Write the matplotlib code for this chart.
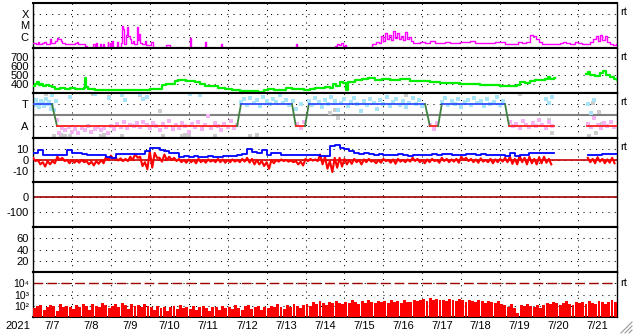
import numpy as np
import matplotlib
matplotlib.use("Agg")
import matplotlib.pyplot as plt
from matplotlib.lines import Line2D

plt.rcParams["font.family"] = ["Liberation Sans", "DejaVu Sans"]

# ---- data (hours since 2021-07-07 00UT) ----
day_labels = ["7/7", "7/8", "7/9", "7/10", "7/11", "7/12", "7/13", "7/14",
              "7/15", "7/16", "7/17", "7/18", "7/19", "7/20", "7/21"]

# GOES X-ray flux (W/m2)
xray_h = [0, 2, 3, 4, 5.5, 7, 8, 10.5, 11, 12, 13.5, 15, 15.5, 17, 18, 20, 23,
          26, 27, 28, 30, 32, 33, 37, 38, 39, 39.5, 41, 42, 43, 44, 46, 46.5,
          47.5, 48, 49, 49.6, 52, 52.6, 54, 55, 55.5, 56, 57.3, 58, 58.6, 60,
          60.4, 61.6, 62.2, 64, 64.7, 65.3, 66, 67, 69, 69.7, 72.7, 73.4, 74,
          82, 83, 84.5, 97, 97.4, 106, 106.6, 116, 116.6, 135, 135.6, 162,
          162.6, 186, 187.4, 188.6, 190, 191, 192.3, 193, 209, 211.5, 213,
          214.5, 215.8, 217, 218.2, 219.5, 220.7, 222, 223.2, 224.4, 225.6,
          227, 228, 229.3, 230.6, 231.8, 233, 234.3, 238.6, 241.7, 244.7,
          247.8, 254, 257, 263, 269.4, 272.5, 278.7, 284.8, 291, 295.3, 299,
          301.5, 304, 306.4, 308, 310, 312, 313.8, 318.7, 325, 326.7, 328.6,
          331, 334, 336, 338.5, 343.4, 345, 347, 348.4, 349.6, 350.8, 352.6,
          354, 355.7, 357.6, 359.5]
xray_flux = [2.8e-7, 2.3e-7, 3.5e-7, 2.3e-7, 2.8e-7, 3.5e-7, 2.3e-7, 6.6e-7,
             2.8e-7, 2.8e-7, 4.3e-7, 8.1e-7, 6.6e-7, 4.3e-7, 3e-7, 2.3e-7,
             2.3e-7, 2.8e-7, 3.5e-7, 2.3e-7, 2e-7, 1.6e-7, 8e-8, 2.3e-7, 8e-8,
             2.8e-7, 8e-8, 2.3e-7, 8e-8, 2e-7, 8e-8, 3.5e-7, 8e-8, 2.8e-7,
             8e-8, 4.3e-7, 8e-8, 3.5e-7, 8e-8, 2.8e-7, 8.1e-6, 5e-6, 2e-7,
             1.5e-6, 7.6e-6, 1.2e-6, 6.6e-7, 2.8e-7, 4.3e-7, 2.3e-7, 6.6e-6,
             5e-7, 1.9e-6, 3e-7, 2.3e-7, 4.3e-7, 1.9e-7, 3.5e-7, 3.5e-7, 8e-8,
             1.9e-7, 1.9e-7, 8e-8, 8.1e-7, 8e-8, 3.5e-7, 8e-8, 2.3e-7, 8e-8,
             1.2e-7, 8e-8, 2.3e-7, 8e-8, 1.5e-7, 2.3e-7, 1.9e-7, 2.8e-7,
             1.6e-7, 1.9e-7, 8e-8, 2.3e-7, 3.5e-7, 2.8e-7, 1.2e-6, 4.3e-7,
             2.3e-6, 6.6e-7, 1.5e-6, 5e-7, 3.5e-6, 8.1e-7, 2e-6, 6.6e-7,
             1.2e-6, 5e-7, 2.8e-6, 6.6e-7, 1e-6, 4.3e-7, 2.8e-7, 3.5e-7,
             2.8e-7, 4.3e-7, 2.8e-7, 3.5e-7, 2.8e-7, 3.5e-7, 4.3e-7, 3e-7,
             2.8e-7, 3.5e-7, 2.3e-7, 2.3e-7, 3.5e-7, 2.8e-7, 3.5e-7, 1.5e-6,
             1.2e-6, 6.6e-7, 3.5e-7, 2.3e-7, 2.3e-7, 2.8e-7, 3.5e-7, 2.8e-7,
             2.3e-7, 3.5e-7, 2.8e-7, 2.3e-7, 3.5e-7, 6.6e-7, 1.2e-6, 4.3e-7,
             1.5e-6, 5e-7, 1.2e-6, 3.5e-7, 2.3e-7, 1.9e-7, 2.3e-7]

# solar wind speed (km/s)
speed_h = [0, 1.2, 2.5, 3.7, 5, 6, 8, 10, 11.7, 13.6, 16.6, 19.7, 22.8, 26, 29,
           31.4, 32, 32.7, 34, 38, 41.3, 47.5, 53.6, 60, 66, 72, 77, 79.5, 82,
           84.5, 87.5, 89.4, 92, 94.3, 96.8, 100, 103, 106, 110.4, 114, 118.4,
           122.7, 127.6, 133.8, 138.7, 142.4, 145, 148.6, 152, 156, 159.7,
           163.4, 167, 171, 174, 177, 180, 183, 185, 186.8, 189.3, 191, 193,
           194.2, 198.5, 203, 206.5, 211, 215, 220, 226, 232.4, 238.6, 244.7,
           251, 257, 263, 269.4, 275.6, 281.7, 288, 294, 298.4, 300.2, 303.3,
           306.4, 309.5, 312.6, 315.6, 317.5, 318.7, 321, 321.5, 341, 342,
           343.4, 346.5, 349.6, 351.4, 353.3, 355.7, 358, 360]
speed = [380, 395, 415, 385, 400, 375, 385, 370, 360, 345, 348, 345, 350, 345,
         342, 350, 460, 365, 340, 335, 333, 335, 333, 330, 335, 337, 340, 390,
         395, 400, 430, 445, 440, 432, 430, 420, 395, 380, 370, 350, 345, 325,
         320, 315, 312, 330, 340, 330, 335, 355, 345, 338, 330, 345, 350, 355,
         360, 350, 395, 380, 425, 410, 330, 420, 440, 450, 460, 445, 455, 440,
         450, 435, 430, 420, 410, 405, 400, 395, 390, 385, 380, 378, 385, 415,
         410, 430, 437, 440, 455, 470, 450, 460, np.nan, 505, 530, 495, 490,
         520, 545, 500, 470, 450, 440]

# IMF sector: +1 toward, -1 away
sector_h = [0, 11.7, 14.8, 125.8, 128.2, 159.7, 162, 167.7, 170, 241.7, 244.7,
            249.7, 252, 291, 293.5, 321, np.nan, 341.5, 360]
sector_v = [1, 1, -1, -1, 1, 1, -1, -1, 1, 1, -1, -1, 1, 1, -1, -1, np.nan,
            -1, -1]

toward_h = [0, 1, 2, 3, 4, 5, 6, 7, 8, 9, 10, 11, 12, 13, 14, 12, 23, 38, 47,
            55, 57, 66, 68, 70, 97, 103, 128, 130, 132, 134, 136, 138, 140,
            142, 144, 146, 148, 150, 152, 154, 156, 158, 160, 162, 165, 170,
            172, 174, 176, 178, 180, 182, 184, 186, 188, 190, 192, 194, 196,
            198, 200, 202, 204, 206, 208, 210, 212, 214, 216, 218, 220, 222,
            224, 226, 228, 230, 232, 234, 236, 238, 240, 252, 254, 256, 258,
            260, 262, 264, 266, 268, 270, 272, 274, 276, 278, 280, 282, 284,
            286, 288, 290, 316, 318, 320, 342, 344, 346]
toward_v = [1.2, 0.9, 1.4, 1.0, 0.7, 1.3, 1.1, 0.8, 1.5, 1.0, 1.2, 0.6, 0.9,
            0.5, 1.3, 1.8, 1.7, 1.9, 1.6, 1.8, 1.4, 1.9, 1.5, 1.7, 1.9, 1.8,
            1.2, 1.5, 0.9, 1.6, 1.1, 1.4, 0.8, 1.7, 1.3, 1.0, 1.5, 1.2, 1.8,
            1.1, 1.4, 0.9, 1.3, 0.6, 1.0, 1.3, 0.9, 1.6, 1.2, 0.7, 1.4, 1.0,
            1.7, 1.3, 0.5, 1.1, 1.5, 0.8, 1.2, 1.6, 1.0, 0.4, 1.3, 0.9, 1.5,
            1.1, 0.6, 1.4, 1.0, 1.7, 0.8, 1.2, 1.5, 0.9, 1.3, 0.7, 1.1, 1.6,
            1.0, 1.4, 0.8, 1.2, 1.6, 0.9, 1.3, 1.0, 1.5, 0.7, 1.2, 1.4, 0.9,
            1.6, 1.1, 1.3, 0.8, 1.5, 1.0, 1.2, 1.7, 0.9, 1.3, 1.5, 1.1, 1.7,
            1.0, 0.2, 1.4]

away_h = [15, 16, 18, 20, 22, 24, 26, 28, 30, 32, 34, 36, 38, 40, 42, 44, 46,
          48, 50, 52, 54, 56, 58, 60, 62, 64, 66, 68, 70, 72, 74, 76, 78, 80,
          82, 84, 86, 88, 90, 92, 94, 96, 98, 100, 102, 104, 106, 108, 110,
          112, 114, 116, 118, 120, 122, 124, 126, 163, 165, 167, 245, 247,
          249, 294, 296, 298, 300, 302, 304, 306, 308, 310, 312, 314, 316,
          318, 320, 342, 344, 346, 348, 350, 352, 354, 356, 358]
away_v = [-0.4, -1.6, -1.2, -1.4, -1.1, -1.5, -1.3, -1.6, -1.2, -1.4, -1.0,
          -1.5, -1.3, -1.1, -1.4, -1.2, -1.6, -1.0, -1.3, -0.8, -1.1, -0.6,
          -1.2, -0.9, -1.0, -0.7, -1.1, -0.6, -0.9, -1.2, -0.7, -1.0, -1.4,
          -0.8, -1.1, -0.5, -1.3, -0.9, -1.2, -0.7, -1.0, -1.5, -0.8, -1.1,
          -0.6, -1.3, -0.9, -0.1, -1.2, -0.7, -1.0, -1.4, -0.8, -1.1, -0.5,
          -1.2, -0.9, -0.8, -1.2, -0.6, -0.9, -1.3, -0.7, -0.6, -1.0, -0.8,
          -1.2, -0.5, -0.9, -1.1, -0.7, -1.0, -0.4, -0.9, -1.2, -0.6, -1.0,
          -0.8, -1.1, -0.3, -0.9, -1.2, -0.7, -1.0, -0.6, -1.1]

other_h = [8, 13, 17, 20, 23, 37, 42, 44, 47, 55, 66, 78, 80, 92, 94, 96, 112,
           134, 138, 183, 186, 188, 230, 300, 318, 320, 343, 345, 347, 349, 351]
other_v = [1.9, -1.9, -1.8, -1.95, -1.9, 1.9, -1.9, -1.8, 1.7, -1.9, 1.8, 0.4,
           -1.9, -1.9, -1.8, -1.95, -1.9, -1.9, -1.8, 0.2, 0.5, -0.3, 1.8, 1.9,
           -0.4, -1.6, -1.9, 1.1, -1.6, 0.3, -0.8]

# IMF Bt and Bz range, 3-hour bins (nT)
bt = [6.6, 9, 4.5, 4.3, 4.5, 4.8, 5, 9, 6, 6.2, 5.8, 4.5, 4.4, 4.6, 4.3, 2.5,
      2, 5.5, 5.3, 5.6, 5.5, 5.4, 5.8, 8, 10.6, 11, 9, 8, 6.5, 6, 3, 3.2, 2.8,
      3.5, 3, 2.7, 3.3, 3, 2.8, 3.4, 3.5, 3.8, 4.5, 5.2, 9.7, 7, 6.7, 9.5, 5,
      6.5, 6.2, 5, 4.5, 4.5, 4.3, 4.6, 4.2, 4.5, 4.4, 3.5, 4, 12.7, 13.3, 11,
      9.7, 8, 6.5, 5.5, 6, 5.8, 5, 5.5, 4.5, 5, 4.8, 5.3, 4.5, 4, 4.2, 4.8,
      4.5, 5, 5.2, 4.8, 5.5, 5.3, 5, 4.6, 4.8, 5.2, 5.6, 5, 5.3, 4.8, 5, 4.6,
      4.2, 3.6, 6.7, 4, 4.2, 4.5, 6.7, 6.5, 6, 6.2, 6, np.nan, np.nan, np.nan,
      np.nan, np.nan, np.nan, np.nan, 4.5, 4.8, 5, 5.5, 5.2, 5.5]
bz_hi = [2, 0, -2, -1, -1, 3, 2, 0, 0, -0.5, 0, -1, -1.5, -1, 0, 3, 4, 2, 1.5,
         1, 3, 5.5, 3, -2, 8, 6.5, 2, 5, 3, 2, 1, 0, 0.5, 0, 1, 0, 0.5, 0, 1,
         0.5, 0, 0.5, 0, 1, 2, 1, 0, -1, -2, 0, 0, 0.5, 0, -0.5, -1, -1.5, 1,
         1, 0.5, 5, 3, -1, 2, 2, 1, 0, 1, 0, 0.5, 1, -0.5, 0, 1, 0, 0.5, 1, 0,
         0.5, 2, 1, 0, 0.5, 1, 0, 2, 1, 0.5, 1, 3, 2, 1, 0.5, 1.5, 0, 1, 0.5,
         1, 2, 3, 1, 4, 2, 3, 1, 2.5, 3, 1, np.nan, np.nan, np.nan, np.nan,
         np.nan, np.nan, np.nan, 2, 1, 2.5, 1, 0.5, 2]
bz_lo = [-1, -4, -6, -4, -3, 0, -1, -3, -2.5, -2.5, -2, -4, -5, -3.5, -3, 0,
         1, -0.5, -1, -1, 0, 2, -5.5, -8.5, -7, 2, -1.5, 0, 0, -1, -2, -2.5,
         -2, -3, -2, -2.5, -1.5, -2, -2, -2.5, -2, -1.5, -2, -1.5, -2.4, -4,
         -4, -5.5, -8, -3, -1.5, -1, -1.5, -2, -4, -5, -1, -0.5, -1, -4, -8,
         -11, -7, -6, -4, -3.5, -2, -4, -2, -1.5, -3, -2.5, -1, -2.5, -3.5,
         -1.5, -2, -1.5, -1, -2, -3, -2, -1, -2.5, -1, -2, -1.5, -2.5, 0, -1,
         -2, -2.5, -1.5, -2, -3, -2, -1.5, -2, -3.5, -4, -2, -4, -3, -4, -3,
         -2.5, -4, np.nan, np.nan, np.nan, np.nan, np.nan, np.nan, np.nan, -2,
         -3, -1.5, -3, -2.5, -3]

# energetic particle flux, 2-hour bins
flux = [60, 90, 110, 45, 80, 120, 95, 30, 140, 70, 100, 85,
        50, 110, 75, 130, 90, 40, 150, 100, 70, 180, 120, 60,
        95, 130, 80, 160, 110, 55, 140, 90, 120, 75, 150, 100,
        70, 45, 100, 60, 85, 30, 75, 95, 50, 110, 65, 80,
        55, 90, 40, 75, 100, 60, 35, 85, 70, 45, 95, 60,
        80, 50, 110, 65, 40, 90, 120, 55, 75, 100, 45, 85,
        60, 95, 70, 130, 85, 50, 110, 75, 140, 90, 65, 120,
        150, 100, 200, 130, 250, 180, 120, 220, 160, 280, 190, 140,
        230, 170, 300, 210, 150, 260, 190, 320, 240, 180, 270, 200,
        250, 190, 330, 220, 280, 170, 310, 240, 200, 350, 260, 300,
        380, 290, 450, 340, 400, 310, 360, 280, 420, 330, 260, 370,
        300, 240, 350, 270, 220, 320, 250, 190, 290, 230, 180, 260,
        150, 110, 80, 130, 60, 20, 120, 90, 140, 100, 70, 120,
        60, 120, 180, 140, 220, 160, 110, 190, 250, 150, 120, 200,
        170, 230, 140, 260, 190, 150, 280, 210, 130, 240, 300, 220]

DOT = dict(color="black", lw=0.75, dashes=(1, 5), zorder=1)


def style_panel(ax, yticks, ylabels, size=8):
    ax.set_xlim(0, 360)
    ax.set_yticks(yticks)
    ax.set_yticklabels(ylabels)
    ax.set_yticks([], minor=True)
    ax.tick_params(length=0, labelsize=size, pad=3)
    for side in ["top", "bottom"]:
        ax.spines[side].set_linewidth(1.5)
    for side in ["left", "right"]:
        ax.spines[side].set_linewidth(1.0)
    for k in range(1, len(day_labels)):
        ax.axvline(24 * k, **DOT)
    for y in yticks:
        ax.axhline(y, **DOT)


def mark_rt(ax, y=0.8):
    ax.text(1.006, y, "rt", transform=ax.transAxes, fontsize=8,
            va="center", ha="left")


fig, axes = plt.subplots(7, 1, sharex=True, figsize=(6.33, 3.34), dpi=100)
fig.subplots_adjust(left=33 / 633, right=617 / 633, top=1 - 3 / 334,
                    bottom=1 - 317 / 334, hspace=0)

# X-ray
ax = axes[0]
ax.set_yscale("log")
ax.set_ylim(1e-7, 1e-3)
style_panel(ax, [1e-4, 1e-5, 1e-6], ["X", "M", "C"])
ax.plot(xray_h, xray_flux, color="#ff00ff", lw=1.0, drawstyle="steps-post",
        zorder=3)
mark_rt(ax)

# solar wind speed
ax = axes[1]
ax.set_ylim(300, 800)
style_panel(ax, [400, 500, 600, 700], ["400", "500", "600", "700"])
ax.plot(speed_h, speed, color="#00ee00", lw=1.6, drawstyle="steps-post",
        zorder=3)
mark_rt(ax)

# IMF sector
ax = axes[2]
ax.set_ylim(-2.05, 2.05)
style_panel(ax, [1, -1], ["T", "A"])
ax.axhline(0, color="#808080", lw=1.5, zorder=2)
ax.plot(other_h, other_v, "s", color="#cccccc", ms=2.4, mew=0, zorder=2)
ax.plot(toward_h, toward_v, "s", color="#a8e4f8", ms=2.6, mew=0, zorder=2)
ax.plot(away_h, away_v, "s", color="#f4b4f4", ms=2.6, mew=0, zorder=2)
for i in range(len(sector_h) - 1):
    v0, v1 = sector_v[i], sector_v[i + 1]
    if np.isnan(v0) or np.isnan(v1):
        continue
    if v0 == v1:
        c = "#3050ff" if v0 > 0 else "#ff2020"
    else:
        c = "#408040"
    ax.plot(sector_h[i:i + 2], sector_v[i:i + 2], color=c, lw=1.3, zorder=3)
mark_rt(ax)

# IMF Bt / Bz
ax = axes[3]
ax.set_ylim(-20.5, 20.5)
style_panel(ax, [10, 0, -10], ["10", "0", "-10"])
ax.axhline(0, color="#cc0000", lw=1.2, zorder=2)
bin_h = np.arange(len(bt)) * 3
# zigzag between the high and low Bz of each bin
bz_h = np.column_stack([bin_h, bin_h + 1.5]).ravel()
bz_v = np.column_stack([bz_hi, bz_lo]).ravel()
ax.plot(bz_h, bz_v, color="#ff0000", lw=1.5, zorder=3)
ax.plot(np.append(bin_h, 360), np.append(bt, bt[-1]), color="#0000ff",
        lw=1.3, drawstyle="steps-post", zorder=4)
mark_rt(ax)

# Dst
ax = axes[4]
ax.set_ylim(-200, 100)
style_panel(ax, [0, -100], ["0", "-100"])
ax.axhline(0, color="#a00000", lw=1.2, zorder=2)

# Kp
ax = axes[5]
ax.set_ylim(0, 80)
style_panel(ax, [20, 40, 60], ["20", "40", "60"])

# particle flux
ax = axes[6]
ax.set_yscale("log")
ax.set_ylim(10, 1e5)
style_panel(ax, [1e2, 1e3, 1e4], ["10\u00b2", "10\u00b3", "10\u2074"],
            size=7.5)
ax.axhline(1e4, color="#a00000", lw=1.0, dashes=(7, 3), zorder=2)
flux_h = np.arange(len(flux)) * 2
ax.bar(flux_h, flux, width=1.8, align="edge", bottom=1, color="#ff0000",
       lw=0, zorder=3)
mark_rt(ax, 0.76)

ax.set_xticks([24 * k + 12 for k in range(len(day_labels))])
ax.set_xticklabels(day_labels)
ax.tick_params(axis="x", length=0, labelsize=8, pad=3)

fig.text(5 / 633, 1 - 326 / 334, "2021", fontsize=8, va="center", ha="left")

# window resize grip
for dx in [0, 4, 8]:
    fig.add_artist(Line2D([(621 + dx) / 633, 632 / 633],
                          [1 / 334, (12 - dx) / 334],
                          transform=fig.transFigure, color="#999999", lw=0.8))

fig.savefig("out.png", dpi=100, facecolor="white")
